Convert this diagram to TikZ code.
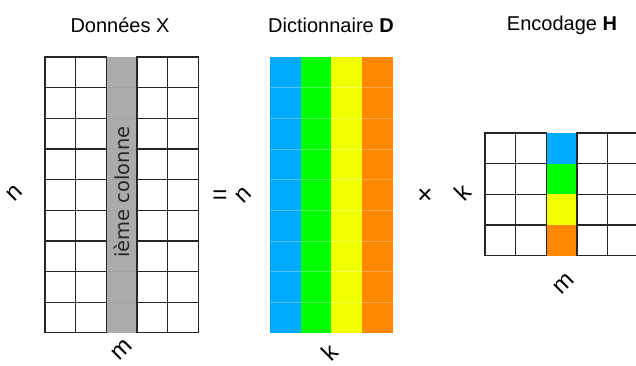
\documentclass[tikz,border=0pt]{standalone}
\usepackage{fontspec}
\setmainfont{Liberation Sans}
\newfontfamily\colfont{DejaVu Sans}
\usetikzlibrary{positioning}

\definecolor{cblue}{RGB}{0,170,255}
\definecolor{cgreen}{RGB}{0,255,0}
\definecolor{cyellow}{RGB}{242,255,0}
\definecolor{corange}{RGB}{255,136,0}
\definecolor{cgray}{RGB}{171,171,171}

\begin{document}
\begin{tikzpicture}[x=1pt,y=-1pt,
  every node/.style={font=\fontsize{20}{24}\selectfont,inner sep=0pt},
  cell/.style={draw=black!85,line width=1.2pt,fill=white},
  dim/.style={rotate=45,font=\fontsize{24}{28}\selectfont},
  op/.style={font=\fontsize{26}{30}\selectfont}
]
\def\c{30.65}
\useasboundingbox (0,0) rectangle (636,365);
% donnees X (5 x 9), colonne grise
\fill[cgray] (45+2*\c,57) rectangle (45+3*\c,57+9*\c);
\foreach \j in {1,...,8}
  \draw[black!15!cgray!85!white,line width=0.8pt] (45+2*\c,57+\j*\c) -- ++(\c,0);
\foreach \i in {0,1,3,4}
  \foreach \j in {0,...,8}
    \draw[cell] (45+\i*\c,57+\j*\c) rectangle ++(\c,\c);
\node[rotate=90,font=\colfont\fontsize{19.5}{22}\selectfont,text=black!85]
  (col) at (45+2.5*\c,192) {ième colonne};
% dictionnaire D (4 x 9)
\foreach \col [count=\i from 0] in {cblue,cgreen,cyellow,corange}
  \fill[\col] (270+\i*\c,57) rectangle ++(\c,9*\c);
\foreach \j in {1,...,8}
  \draw[white,opacity=0.3,line width=0.8pt] (270,57+\j*\c) -- ++(4*\c,0);
% encodage H (5 x 4)
\foreach \i in {0,1,3,4}
  \foreach \j in {0,...,3}
    \draw[cell] (485+\i*\c,133+\j*\c) rectangle ++(\c,\c);
\foreach \col [count=\j from 0] in {cblue,cgreen,cyellow,corange}
  \fill[\col] (485+2*\c+0.6,133+\j*\c) rectangle ++(\c-1.2,\c);
% titres
\node (tX) at (120,25) {Données X};
\node (tD) at (331,25) {Dictionnaire \textbf{D}};
\node (tH) at (562,25) {Encodage \textbf{H}};
% dimensions et operateurs
\node[dim] (nX) at (15,193) {n};
\node[dim] (mX) at (122,350) {m};
\node[op] (eq) at (220,197) {=};
\node[dim] (nD) at (244,195) {n};
\node[dim] (kD) at (330,352) {k};
\node[op] (times) at (425,196) {×};
\node[dim] (kH) at (463,192) {k};
\node[dim] (mH) at (564,284) {m};
\end{tikzpicture}
\end{document}
